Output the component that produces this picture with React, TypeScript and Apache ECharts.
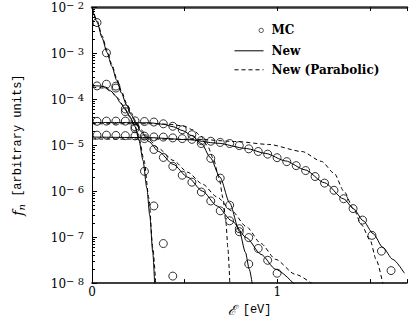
import React, { useEffect, useRef } from 'react';
import * as echarts from 'echarts';

// Monte-Carlo energy grid (eV) and values for the four distributions
const mcE = [0.027, 0.078, 0.129, 0.180, 0.232, 0.283, 0.334, 0.385, 0.436, 0.487, 0.539, 0.590, 0.641, 0.692, 0.743, 0.795, 0.846, 0.897, 0.948, 0.999, 1.051, 1.102, 1.153, 1.204, 1.255, 1.306, 1.358, 1.409, 1.460, 1.511, 1.562, 1.614];
const mcA = [4.59e-3, 1.01e-3, 1.91e-4, 6.09e-5, 2.50e-5, 1.38e-5, 8.00e-6, 5.38e-6, 3.45e-6, 2.21e-6, 1.56e-6, 9.52e-7, 6.09e-7, 3.72e-7, 2.26e-7, 1.52e-7, 9.75e-8, 5.66e-8, 3.13e-8, 1.64e-8];
const mcB = [1.93e-4, 2.10e-4, 1.73e-4, 5.33e-5, 2.26e-5, 2.69e-6, 4.75e-7, 7.24e-8, 1.42e-8];
const mcC = [3.28e-5, 3.31e-5, 3.31e-5, 3.31e-5, 3.36e-5, 3.25e-5, 3.16e-5, 2.90e-5, 2.56e-5, 2.15e-5, 1.68e-5, 1.08e-5, 5.13e-6, 1.91e-6, 4.93e-7, 1.31e-7, 2.60e-8];
const mcD = [1.64e-5, 1.64e-5, 1.62e-5, 1.60e-5, 1.58e-5, 1.56e-5, 1.50e-5, 1.49e-5, 1.43e-5, 1.38e-5, 1.33e-5, 1.25e-5, 1.21e-5, 1.14e-5, 1.08e-5, 9.75e-6, 8.28e-6, 7.24e-6, 6.34e-6, 5.31e-6, 4.36e-6, 3.57e-6, 2.79e-6, 2.07e-6, 1.49e-6, 1.04e-6, 6.82e-7, 4.16e-7, 2.34e-7, 1.09e-7, 4.95e-8, 1.87e-8];

// "New" model curves (solid)
const newAE = [0.002, 0.028, 0.054, 0.081, 0.107, 0.133, 0.159, 0.186, 0.212, 0.238, 0.265, 0.307, 0.359, 0.438, 0.517, 0.596, 0.675, 0.754, 0.833, 0.912, 0.991, 1.096];
const newAF = [9.06e-3, 4.65e-3, 2.15e-3, 1.03e-3, 5.13e-4, 2.56e-4, 1.35e-4, 7.43e-5, 4.53e-5, 2.90e-5, 1.95e-5, 1.19e-5, 7.24e-6, 3.81e-6, 2.00e-6, 1.00e-6, 4.75e-7, 2.26e-7, 9.75e-8, 4.21e-8, 2.00e-8, 9.1e-9];
const newBE = [0.002, 0.044, 0.075, 0.102, 0.128, 0.154, 0.181, 0.207, 0.233, 0.254, 0.275, 0.296, 0.312, 0.328, 0.338];
const newBF = [1.95e-4, 1.92e-4, 1.81e-4, 1.49e-4, 1.16e-4, 8.20e-5, 5.79e-5, 3.90e-5, 2.50e-5, 1.25e-5, 4.65e-6, 1.16e-6, 2.90e-7, 4.65e-8, 9.5e-9];
const newCE = [0.002, 0.149, 0.307, 0.386, 0.438, 0.491, 0.538, 0.591, 0.638, 0.691, 0.743, 0.796, 0.828, 0.849, 0.865];
const newCF = [3.08e-5, 3.08e-5, 3.05e-5, 2.83e-5, 2.50e-5, 2.05e-5, 1.60e-5, 1.08e-5, 5.38e-6, 2.00e-6, 5.52e-7, 1.31e-7, 4.65e-8, 2.00e-8, 9.5e-9];
const newDE = [0.002, 0.307, 0.517, 0.675, 0.833, 0.938, 1.044, 1.149, 1.254, 1.359, 1.412, 1.464, 1.517, 1.570, 1.623, 1.686];
const newDF = [1.49e-5, 1.45e-5, 1.31e-5, 1.10e-5, 8.41e-6, 6.56e-6, 4.53e-6, 2.90e-6, 1.52e-6, 6.73e-7, 4.10e-7, 2.26e-7, 1.19e-7, 5.94e-8, 3.28e-8, 1.64e-8];

// "New (Parabolic)" curves (dashed)
const parAE = [0.002, 0.028, 0.054, 0.081, 0.107, 0.133, 0.159, 0.186, 0.212, 0.238, 0.265, 0.307, 0.359, 0.438, 0.517, 0.596, 0.675, 0.754, 0.833, 0.912, 0.991, 1.096, 1.191];
const parAF = [9.51e-3, 5.00e-3, 2.38e-3, 1.13e-3, 5.66e-4, 2.83e-4, 1.49e-4, 8.20e-5, 5.00e-5, 3.20e-5, 2.15e-5, 1.31e-5, 8.41e-6, 4.65e-6, 2.56e-6, 1.42e-6, 7.43e-7, 3.72e-7, 1.68e-7, 7.24e-8, 3.28e-8, 1.56e-8, 9.5e-9];
const parBE = [0.002, 0.070, 0.107, 0.138, 0.170, 0.202, 0.233, 0.254, 0.281, 0.307, 0.328, 0.344];
const parBF = [1.81e-4, 1.73e-4, 1.42e-4, 1.05e-4, 7.06e-5, 4.31e-5, 2.50e-5, 1.38e-5, 4.65e-6, 7.06e-7, 5.94e-8, 9.5e-9];
const parCE = [0.002, 0.307, 0.412, 0.491, 0.544, 0.586, 0.623, 0.654, 0.686, 0.707, 0.723, 0.733, 0.744];
const parCF = [2.90e-5, 2.90e-5, 2.83e-5, 2.62e-5, 2.15e-5, 1.60e-5, 9.75e-6, 5.13e-6, 1.91e-6, 7.06e-7, 2.05e-7, 5.94e-8, 9.5e-9];
const parDE = [0.002, 0.307, 0.570, 0.781, 0.954, 1.133, 1.238, 1.307, 1.359, 1.412, 1.454, 1.502, 1.533, 1.570];
const parDF = [1.35e-5, 1.35e-5, 1.33e-5, 1.19e-5, 1.03e-5, 7.24e-6, 4.42e-6, 2.44e-6, 1.00e-6, 4.10e-7, 1.86e-7, 8.41e-8, 3.28e-8, 9.5e-9];

const xLabels = [0, 1];
const legendNames = ['MC', 'New', 'New (Parabolic)'];

const zip = (xs: number[], ys: number[]) => ys.map((y, i) => [xs[i], y]);

const lineSeries = (name: string, xs: number[], ys: number[], dashed: boolean) => ({
  type: 'line',
  name,
  data: zip(xs, ys),
  symbol: 'none',
  smooth: 0.25,
  smoothMonotone: 'x',
  lineStyle: { color: '#000', width: 1, type: dashed ? [4, 3] : 'solid' },
  itemStyle: { color: '#000' },
  silent: true,
  z: 2,
});

const mcSeries = (ys: number[]) => ({
  type: 'scatter',
  name: 'MC',
  data: zip(mcE, ys),
  symbol: 'circle',
  symbolSize: 8,
  itemStyle: { color: 'rgba(0,0,0,0)', borderColor: '#000', borderWidth: 1 },
  silent: true,
  z: 3,
});

export default function App() {
  const ref = useRef<HTMLDivElement>(null);
  useEffect(() => {
    if (!ref.current) return;
    const chart = echarts.init(ref.current, null, { renderer: 'svg' });
    const option: any = {
      animation: false,
      backgroundColor: '#fff',
      grid: { left: 92, top: 7, width: 323, height: 279 },
      legend: {
        orient: 'vertical',
        left: 229,
        top: 18,
        itemWidth: 29,
        itemHeight: 14,
        itemGap: 7,
        selectedMode: false,
        lineStyle: { width: 1 },
        textStyle: { fontFamily: 'DejaVu Serif', fontWeight: 'bold', fontSize: 12, color: '#000', padding: [0, 0, 0, 3] },
        data: [
          { name: legendNames[0], icon: 'path://M0 0L0 0M29 14L29 14M24.5 7A2.2 2.2 0 1 1 28.9 7A2.2 2.2 0 1 1 24.5 7Z', itemStyle: { borderWidth: 0.8 } },
          { name: legendNames[1], itemStyle: { opacity: 0 }, lineStyle: { width: 1 } },
          { name: legendNames[2], itemStyle: { opacity: 0 }, lineStyle: { width: 1 } },
        ],
      },
      xAxis: [
        {
          type: 'value', position: 'bottom', min: 0, max: 1.7, interval: 0.5,
          axisLine: { lineStyle: { color: '#000', width: 1.5 } },
          axisTick: { inside: true, length: 4, lineStyle: { color: '#000' } },
          axisLabel: {
            formatter: (v: number) => (xLabels.includes(v) ? String(v) : ''),
            fontFamily: 'DejaVu Serif', fontSize: 12, color: '#000', margin: 3,
          },
          splitLine: { show: false },
          name: '{s|ℰ} [eV]',
          nameLocation: 'middle',
          nameGap: 16,
          nameTextStyle: {
            fontFamily: 'Liberation Mono', fontSize: 12, color: '#000',
            rich: { s: { fontFamily: 'DejaVu Serif', fontStyle: 'italic', fontSize: 14, color: '#000' } },
          },
        },
        {
          type: 'value', position: 'top', min: 0, max: 1.7, interval: 0.5,
          axisLine: { lineStyle: { color: '#333', width: 2.5 } },
          axisTick: { inside: true, length: 4, lineStyle: { color: '#000' } },
          axisLabel: { show: false },
          splitLine: { show: false },
        },
      ],
      yAxis: {
        type: 'log', logBase: 10, min: 1e-8, max: 1e-2,
        axisLine: { show: true, lineStyle: { color: '#000', width: 1 } },
        axisTick: { inside: true, length: 5, lineStyle: { color: '#000' } },
        minorTick: { show: true, splitNumber: 9, length: 3, lineStyle: { color: '#000' } },
        axisLabel: {
          margin: 8,
          formatter: (v: number) => `{b|10}{s|− ${Math.round(-Math.log10(v))}}`,
          rich: {
            b: { fontFamily: 'DejaVu Serif', fontSize: 12, color: '#000', verticalAlign: 'bottom', lineHeight: 14 },
            s: { fontFamily: 'DejaVu Serif', fontSize: 10, color: '#000', verticalAlign: 'top', lineHeight: 10, padding: [0, 0, 6, 0] },
          },
        },
        splitLine: { show: false },
        name: '{f|f}{n|n} [arbitrary units]',
        nameLocation: 'middle',
        nameRotate: 90,
        nameGap: 66,
        nameTextStyle: {
          fontFamily: 'Liberation Mono', fontSize: 12, color: '#000',
          rich: {
            f: { fontFamily: 'DejaVu Serif', fontStyle: 'italic', fontSize: 14, color: '#000', lineHeight: 16 },
            n: { fontFamily: 'DejaVu Serif', fontStyle: 'italic', fontSize: 10, color: '#000', verticalAlign: 'bottom', lineHeight: 10, padding: [6, 0, 0, 0] },
          },
        },
      },
      series: [
        lineSeries('New', newAE, newAF, false),
        lineSeries('New', newBE, newBF, false),
        lineSeries('New', newCE, newCF, false),
        lineSeries('New', newDE, newDF, false),
        lineSeries('New (Parabolic)', parAE, parAF, true),
        lineSeries('New (Parabolic)', parBE, parBF, true),
        lineSeries('New (Parabolic)', parCE, parCF, true),
        lineSeries('New (Parabolic)', parDE, parDF, true),
        mcSeries(mcA),
        mcSeries(mcB),
        mcSeries(mcC),
        mcSeries(mcD),
      ],
    };
    chart.setOption(option);
    return () => chart.dispose();
  }, []);
  return <div ref={ref} style={{ position: 'absolute', left: 0, top: 0, width: 410, height: 322 }} />;
}
